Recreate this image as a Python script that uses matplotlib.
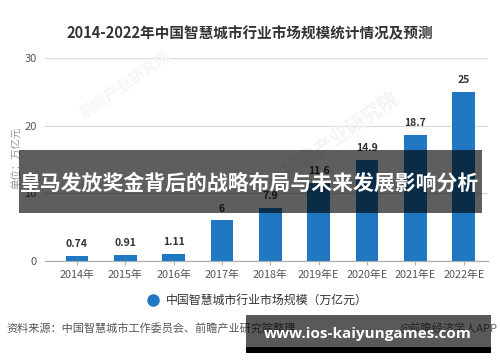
import matplotlib
matplotlib.use("Agg")
import matplotlib.pyplot as plt
from matplotlib.patches import Rectangle

plt.rcParams['font.family'] = ['Noto Sans CJK SC', 'DejaVu Sans']

categories = ["2014年", "2015年", "2016年", "2017年", "2018年", "2019年E", "2020年E", "2021年E", "2022年E"]
values = [0.74, 0.91, 1.11, 6, 7.9, 11.6, 14.9, 18.7, 25]
value_labels = ["0.74", "0.91", "1.11", "6", "7.9", "11.6", "14.9", "18.7", "25"]
yticks = [0, 10, 20, 30]

title = "2014-2022年中国智慧城市行业市场规模统计情况及预测"
legend_label = "中国智慧城市行业市场规模（万亿元）"
ylabel = "单位：万亿元"
source = "资料来源：中国智慧城市工作委员会、前瞻产业研究院整理"
credit = "@前瞻经济学人APP"
banner = "皇马发放奖金背后的战略布局与未来发展影响分析"
site = "www.ios-kaiyungames.com"

W, H = 500, 362
fig = plt.figure(figsize=(W / 100, H / 100), dpi=100)
fig.patch.set_facecolor("white")

ax = fig.add_axes([45 / W, 1 - 261 / H, (488 - 45) / W, (261 - 58.3) / H])
x = list(range(len(categories)))
bar_color = "#1f78c1"
ax.bar(x, values, width=0.47, color=bar_color, zorder=3)
for xi, v, lab in zip(x, values, value_labels):
    ax.annotate(lab, (xi, v), xytext=(0, 5), textcoords="offset points",
                ha="center", va="bottom", fontsize=7.5, fontweight="bold",
                color="#333333", zorder=4)

ax.set_xlim(-0.66, 8.5)
ax.set_ylim(0, 30)
ax.set_yticks(yticks)
ax.set_yticklabels([str(t) for t in yticks])
ax.set_xticks(x)
ax.set_xticklabels(categories)
ax.grid(axis="y", color="#dcdcdc", linewidth=0.9, zorder=0)
ax.set_axisbelow(True)
for s in ["top", "right", "left"]:
    ax.spines[s].set_visible(False)
ax.spines["bottom"].set_color("#b0b0b0")
ax.spines["bottom"].set_linewidth(0.9)
ax.tick_params(axis="y", length=0, labelsize=8, colors="#555555", pad=6)
ax.tick_params(axis="x", length=3, width=0.8, color="#b0b0b0", labelsize=7.8,
               labelcolor="#555555", pad=3)
ax.set_facecolor("none")

# y label
fig.text(17 / W, 1 - 158 / H, ylabel, rotation=90, ha="center", va="center",
         fontsize=7.5, color="#999999")

# title
fig.text(250 / W, 1 - 33 / H, title, ha="center", va="center", fontsize=10.5,
         fontweight="bold", color="#333333")

# faint watermarks
fig.text(125 / W, 1 - 85 / H, "前瞻产业研究院", rotation=35, ha="center", va="center",
         fontsize=11, color="#f6f6f6", fontweight="bold", zorder=0)
fig.text(340 / W, 1 - 135 / H, "前瞻产业研究院", rotation=35, ha="center", va="center",
         fontsize=14, color="#f4f4f4", fontweight="bold", zorder=0)

# legend
fig.add_artist(plt.Line2D([153 / W], [1 - 300 / H], marker="o", markersize=8,
                          color=bar_color, linestyle="none", transform=fig.transFigure))
fig.text(166 / W, 1 - 300 / H, legend_label, ha="left", va="center", fontsize=8.6,
         color="#333333")

# source
fig.text(6 / W, 1 - 328 / H, source, ha="left", va="center", fontsize=8, color="#555555")
fig.text(497 / W, 1 - 328 / H, credit, ha="right", va="center", fontsize=8, color="#666666")

# overlay banner
fig.add_artist(Rectangle((19 / W, 1 - 213 / H), (482 - 19) / W, (213 - 150) / H,
                         transform=fig.transFigure, facecolor="black", alpha=0.63,
                         edgecolor="none", zorder=10))
fig.text(250 / W, 1 - 183 / H, banner, ha="center", va="center", fontsize=15,
         fontweight="bold", color="white", zorder=11)

# bottom site banner
fig.add_artist(Rectangle((246 / W, 1 - 347 / H), (491 - 246) / W, (347 - 315) / H,
                         transform=fig.transFigure, facecolor="black", alpha=0.65,
                         edgecolor="none", zorder=10))
fig.add_artist(Rectangle((246 / W, 1 - 353 / H), (491 - 246) / W, (353 - 347) / H,
                         transform=fig.transFigure, facecolor="black",
                         edgecolor="none", zorder=10))
fig.text(368 / W, 1 - 334 / H, site, ha="center", va="center", fontsize=11,
         fontweight="bold", color="white", family=["Open Sans", "DejaVu Sans"], zorder=11)

fig.savefig("out.png", dpi=100)
